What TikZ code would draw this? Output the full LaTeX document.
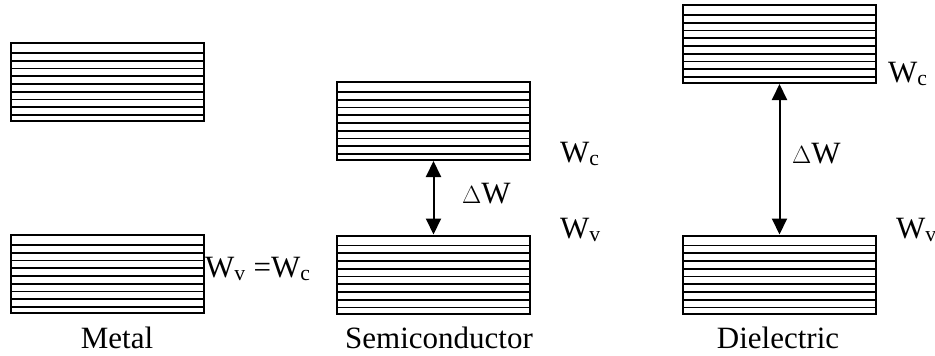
\documentclass[tikz,border=0pt]{standalone}
\usepackage{fontspec}
\setmainfont{Liberation Serif}
\usetikzlibrary{arrows.meta, positioning, calc}

\tikzset{
  band/.style={draw, line width=2pt, minimum width=193pt, minimum height=78pt, inner sep=0pt,
    path picture={
      \foreach \k in {0,...,8}
        \draw[line width=1.6pt] ($(path picture bounding box.north west)+(0,10+7.75*\k)$)
          -- ($(path picture bounding box.north east)+(0,10+7.75*\k)$);
    }},
  lbl/.style={inner sep=0pt, anchor=base west, font=\fontsize{31}{36}\selectfont},
  caption/.style={inner sep=0pt, anchor=base, font=\fontsize{31}{36}\selectfont},
  gap/.style={line width=2pt, {Triangle[width=15pt,length=16pt]}-{Triangle[width=15pt,length=16pt]}}
}

\begin{document}
\begin{tikzpicture}[x=1pt, y=-1pt]

\useasboundingbox (0,0) rectangle (935,356);

% metal
\node[band] (mtop) at (107.5, 82) {};
\node[band] (mbot) at (107.5, 274) {};
\node[lbl] (mw) at (205, 277) {W\textsubscript{v} =W\textsubscript{c}};
\node[caption] (mname) at (117, 348) {Metal};

% semiconductor
\node[band] (stop) at (433.5, 121) {};
\node[band] (sbot) at (433.5, 274.5) {};
\draw[gap] (stop.south) -- (sbot.north);
\node[lbl] (sdw) at (462, 203) {$\Delta$W};
\node[lbl] (swc) at (560, 162) {W\textsubscript{c}};
\node[lbl] (swv) at (560, 238) {W\textsubscript{v}};
\node[caption] (sname) at (439, 348) {Semiconductor};

% dielectric
\node[band] (dtop) at (779.5, 44) {};
\node[band] (dbot) at (779.5, 274.5) {};
\draw[gap] (dtop.south) -- (dbot.north);
\node[lbl] (ddw) at (792, 163) {$\Delta$W};
\node[lbl] (dwc) at (888, 82) {W\textsubscript{c}};
\node[lbl] (dwv) at (896, 238) {W\textsubscript{v}};
\node[caption] (dname) at (778, 348) {Dielectric};

\end{tikzpicture}
\end{document}
